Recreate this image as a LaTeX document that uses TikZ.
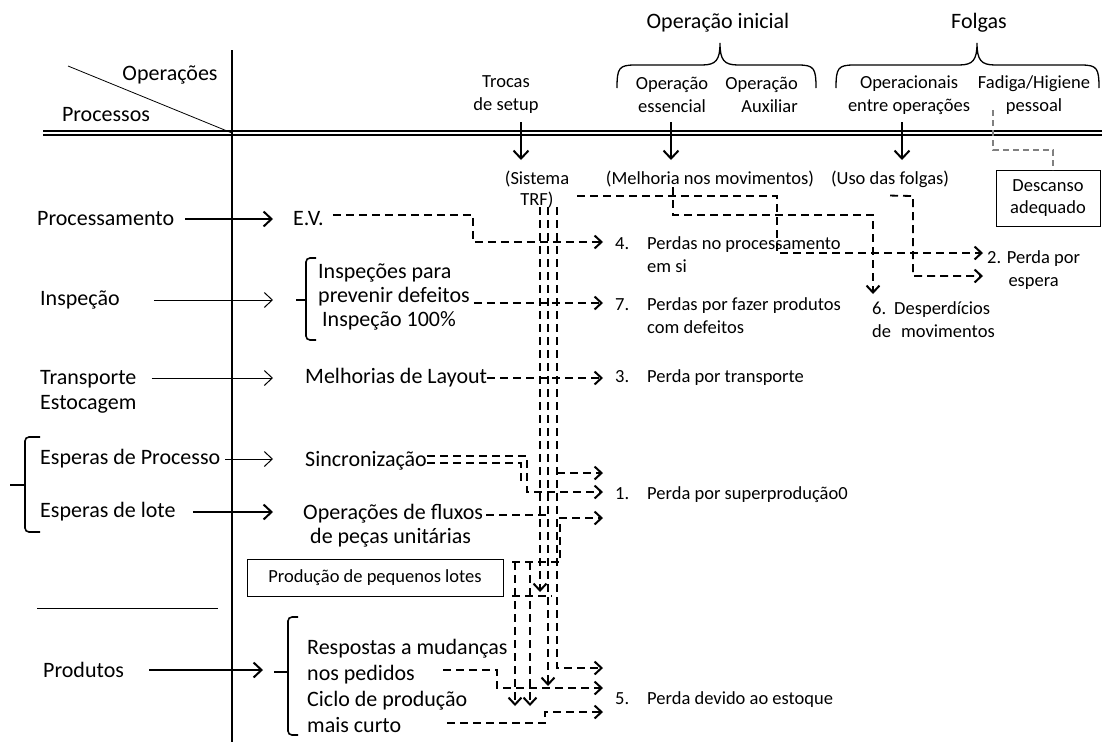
\documentclass[tikz,border=0pt]{standalone}
\usepackage{fontspec}
\setmainfont{Carlito}
\usetikzlibrary{positioning}
\usetikzlibrary{arrows.meta}

\begin{document}
\begin{tikzpicture}
[x=1pt,y=-1pt,
 every node/.style={inner sep=0pt},
 biglabel/.style={font=\fontsize{22}{25}\selectfont},
 smalllabel/.style={font=\fontsize{18.5}{23}\selectfont},
 axisline/.style={line width=2.6pt},
 thickarr/.style={line width=2pt,-{Straight Barb[length=8pt,width=15pt]}},
 thinarr/.style={line width=0.8pt,-{Straight Barb[length=8pt,width=15pt,line width=1pt]}},
 dashline/.style={line width=1.8pt,dash pattern=on 8pt off 5pt},
 dasharr/.style={dashline,-{Straight Barb[length=7pt,width=13pt,line width=2pt]}},
 graydash/.style={gray,line width=1.2pt,dash pattern=on 6pt off 4pt},
 bracestroke/.style={line width=1.6pt,rounded corners=4pt},
 boxed/.style={draw,line width=1pt}]

\useasboundingbox (0,0) rectangle (1102,742);

% table frame
\draw[line width=1.6pt,double distance=2.6pt] (43,133) -- (1102,133);
\coordinate (corner) at (232,133);
\draw[axisline] (232,50) -- (232,742);
\draw[line width=0.8pt] (corner) -- ++(-164,-67);
\node[biglabel] (operacoes) at (170,75) {Operações};
\node[biglabel] (processos) at (106,115) {Processos};

% top: operations
\node[biglabel] (opini) at (718,23) {Operação inicial};
\node[biglabel] (folgas) at (979,23) {Folgas};
\draw[line width=1.3pt] (617,88) .. controls (617,68) and (619,65) .. (635,65)
	-- (702,65) .. controls (716,65) and (720,60) .. (720,43)
	.. controls (720,60) and (724,65) .. (738,65)
	-- (798,65) .. controls (814,65) and (816,68) .. (816,88);
\draw[line width=1.3pt] (836,88) .. controls (836,68) and (838,65) .. (854,65)
	-- (959,65) .. controls (973,65) and (977,60) .. (977,43)
	.. controls (977,60) and (981,65) .. (995,65)
	-- (1081,65) .. controls (1097,65) and (1099,68) .. (1099,88);

\node[smalllabel,align=center] (trocas) at (506,95) {Trocas\\de setup};
\node[smalllabel,align=center] (essencial) at (672,95) {Operação\\essencial};
\node[smalllabel,align=right,anchor=east] (auxiliar) at (798,95) {Operação\\Auxiliar};
\node[smalllabel,align=center] (operacionais) at (909,95) {Operacionais\\entre operações};
\node[smalllabel,align=center] (fadiga) at (1034,95) {Fadiga/Higiene\\pessoal};

\coordinate (setupdown) at (521,122);
\coordinate (essdown) at (671,122);
\coordinate (folgadown) at (902,122);
\draw[thickarr] (setupdown) -- ++(0,38);
\draw[thickarr] (essdown) -- ++(0,38);
\draw[thickarr] (folgadown) -- ++(0,38);

\node[font=\fontsize{18.5}{21}\selectfont,align=center] (sistema) at (537,190) {(Sistema\\TRF)};
\node[smalllabel] (melhoria) at (710,179) {(Melhoria nos movimentos)};
\node[smalllabel] (uso) at (890,179) {(Uso das folgas)};
\node[boxed,font=\fontsize{18.5}{22}\selectfont,align=center,minimum width=104,minimum height=56]
	(descanso) at (1048,198) {Descanso\\adequado};
\coordinate (fadigadown) at (993,110);
\draw[graydash] (fadigadown) -- (993,150) -- (1053,150) -- (1053,170);

% left: processes
\node[biglabel,anchor=west] (processamento) at (37,219) {Processamento};
\node[biglabel,anchor=west] (inspecao) at (40,300) {Inspeção};
\node[biglabel,anchor=west,align=left] (transporte) at (40,392) {Transporte\\Estocagem};
\node[biglabel,anchor=west] (esperasproc) at (40,459) {Esperas de Processo};
\node[biglabel,anchor=west] (esperaslote) at (40,512) {Esperas de lote};
\node[biglabel,anchor=west] (produtos) at (43,670) {Produtos};
\draw[bracestroke] (40,437) -- (25,437) -- (25,532) -- (40,532);
\draw[line width=1.6pt] (25,485) -- (10,485);
\draw[line width=0.8pt] (37,608) -- (218,608);

% middle: improvements
\node[biglabel,anchor=west] (ev) at (293,219) {E.V.};
\node[font=\fontsize{22}{24}\selectfont,anchor=west,align=left] (insp) at (318,297)
	{Inspeções para\\prevenir defeitos\\\hspace*{4pt}Inspeção 100\%};
\node[biglabel,anchor=west] (layout) at (305,378) {Melhorias de Layout};
\node[biglabel,anchor=west] (sinc) at (305,461) {Sincronização};
\node[font=\fontsize{22}{24}\selectfont,anchor=west,align=left] (fluxos) at (303,526)
	{Operações de fluxos\\\hspace*{7pt}de peças unitárias};
\node[boxed,smalllabel,minimum width=256,minimum height=37] (pequenos) at (375,578) {Produção de pequenos lotes};
\node[font=\fontsize{22}{26}\selectfont,anchor=west,align=left] (respostas) at (307,686)
	{Respostas a mudanças\\nos pedidos\\Ciclo de produção\\mais curto};
\coordinate (insptick) at (296,300);
\coordinate (prodtick) at (274,672);
\draw[bracestroke] (316,258) -- (306,258) -- (306,340) -- (316,340);
\draw[line width=1.6pt] (306,300) -- (insptick);
\draw[bracestroke] (298,617) -- (288,617) -- (288,735) -- (298,735);
\draw[line width=1.6pt] (288,672) -- (prodtick);

\draw[thickarr,shorten <=11pt,shorten >=20pt] (processamento) -- (ev);
\draw[thinarr,shorten <=34pt,shorten >=23pt] (inspecao) -- (insptick);
\draw[thinarr,shorten >=32pt] ([xshift=15pt]transporte.east |- layout.west) -- (layout.west);
\draw[thinarr,shorten <=5pt,shorten >=32pt] (esperasproc.east) -- (esperasproc.east -| sinc.west);
\draw[thickarr,shorten <=17pt,shorten >=30pt] (esperaslote.east) -- (esperaslote.east -| fluxos.west);
\draw[thickarr,shorten <=25pt,shorten >=11pt] (produtos.east) -- (produtos.east -| prodtick);

% right: losses
\node[smalllabel,anchor=west,align=left] (p4) at (615,255)
	{\makebox[32pt][l]{4.}Perdas no processamento\\\hspace*{32pt}em si};
\node[smalllabel,anchor=west,align=left] (p7) at (615,316)
	{\makebox[32pt][l]{7.}Perdas por fazer produtos\\\hspace*{32pt}com defeitos};
\node[smalllabel,anchor=west] (p3) at (615,378) {\makebox[32pt][l]{3.}Perda por transporte};
\node[smalllabel,anchor=west] (p1) at (615,495) {\makebox[32pt][l]{1.}Perda por superprodução0};
\node[smalllabel,anchor=west] (p5) at (615,700) {\makebox[32pt][l]{5.}Perda devido ao estoque};
\node[smalllabel,anchor=west,align=center] (p2) at (987,270) {2. Perda por\\espera};
\node[smalllabel,anchor=west,align=left] (p6) at (872,320)
	{6.\hspace{8pt}Desperdícios\\de\hspace{10pt}movimentos};

% arrival points
\coordinate (to4) at (603,242);
\coordinate (to7) at (603,303);
\coordinate (to3) at (603,378);
\coordinate (to1a) at (603,473);
\coordinate (to1b) at (603,492);
\coordinate (to1c) at (603,518);
\coordinate (to5a) at (603,668);
\coordinate (to5b) at (603,688);
\coordinate (to5c) at (603,712);
\coordinate (to2a) at (983,253);
\coordinate (to2b) at (983,276);
\coordinate (to6) at (873,294);

% setup lines
\coordinate (trfL) at (540,207);
\coordinate (trfM) at (548,207);
\coordinate (trfR) at (557,207);
\draw[dasharr] (trfL) -- (540,592);
\draw[dasharr] (trfM) -- (548,686);
\draw[dasharr] (trfR) -- (557,668) -- (to5a);
\draw[dasharr] (557,473) -- (to1a);
\draw[dasharr] ([xshift=8pt]sistema.east |- 0,196) -- (777,196) -- (777,253) -- (to2a);

% improvement lines
\draw[dasharr] ([xshift=9pt]ev.east |- 0,215) -- (473,215) -- (473,242) -- (to4);
\draw[dasharr] ([xshift=4pt]insp.east |- 0,303) -- (to7);
\draw[dasharr] (layout.east) -- (to3);
\draw[dasharr] (sinc.east |- 0,456) -- (527,456) -- (527,492) -- (to1b);
\draw[dashline] (sinc.east |- 0,463) -- (521,463) -- (521,486);
\draw[dashline] ([xshift=3pt]fluxos.north east |- 0,515) -- (548,515);
\coordinate (lotesA) at (512,562);
\draw[dasharr] (lotesA) -- (560,562) -- (560,518) -- (to1c);
\draw[dasharr] (515,562) -- (515,706);
\draw[dasharr] (530,562) -- (530,706);
\draw[dashline] (512,596) -- (552,596);
\draw[dasharr] (443,670) -- (497,670) -- (497,688) -- (to5b);
\draw[dasharr] (447,723) -- (545,723) -- (545,712) -- (to5c);

% movement and slack lines
\draw[dasharr] (melhoria.south -| 673,0) -- (673,215) -- (873,215) -- (to6);
\draw[dasharr] ([yshift=-8pt]uso.south) -- (913,196) -- (913,276) -- (to2b);
\end{tikzpicture}
\end{document}
